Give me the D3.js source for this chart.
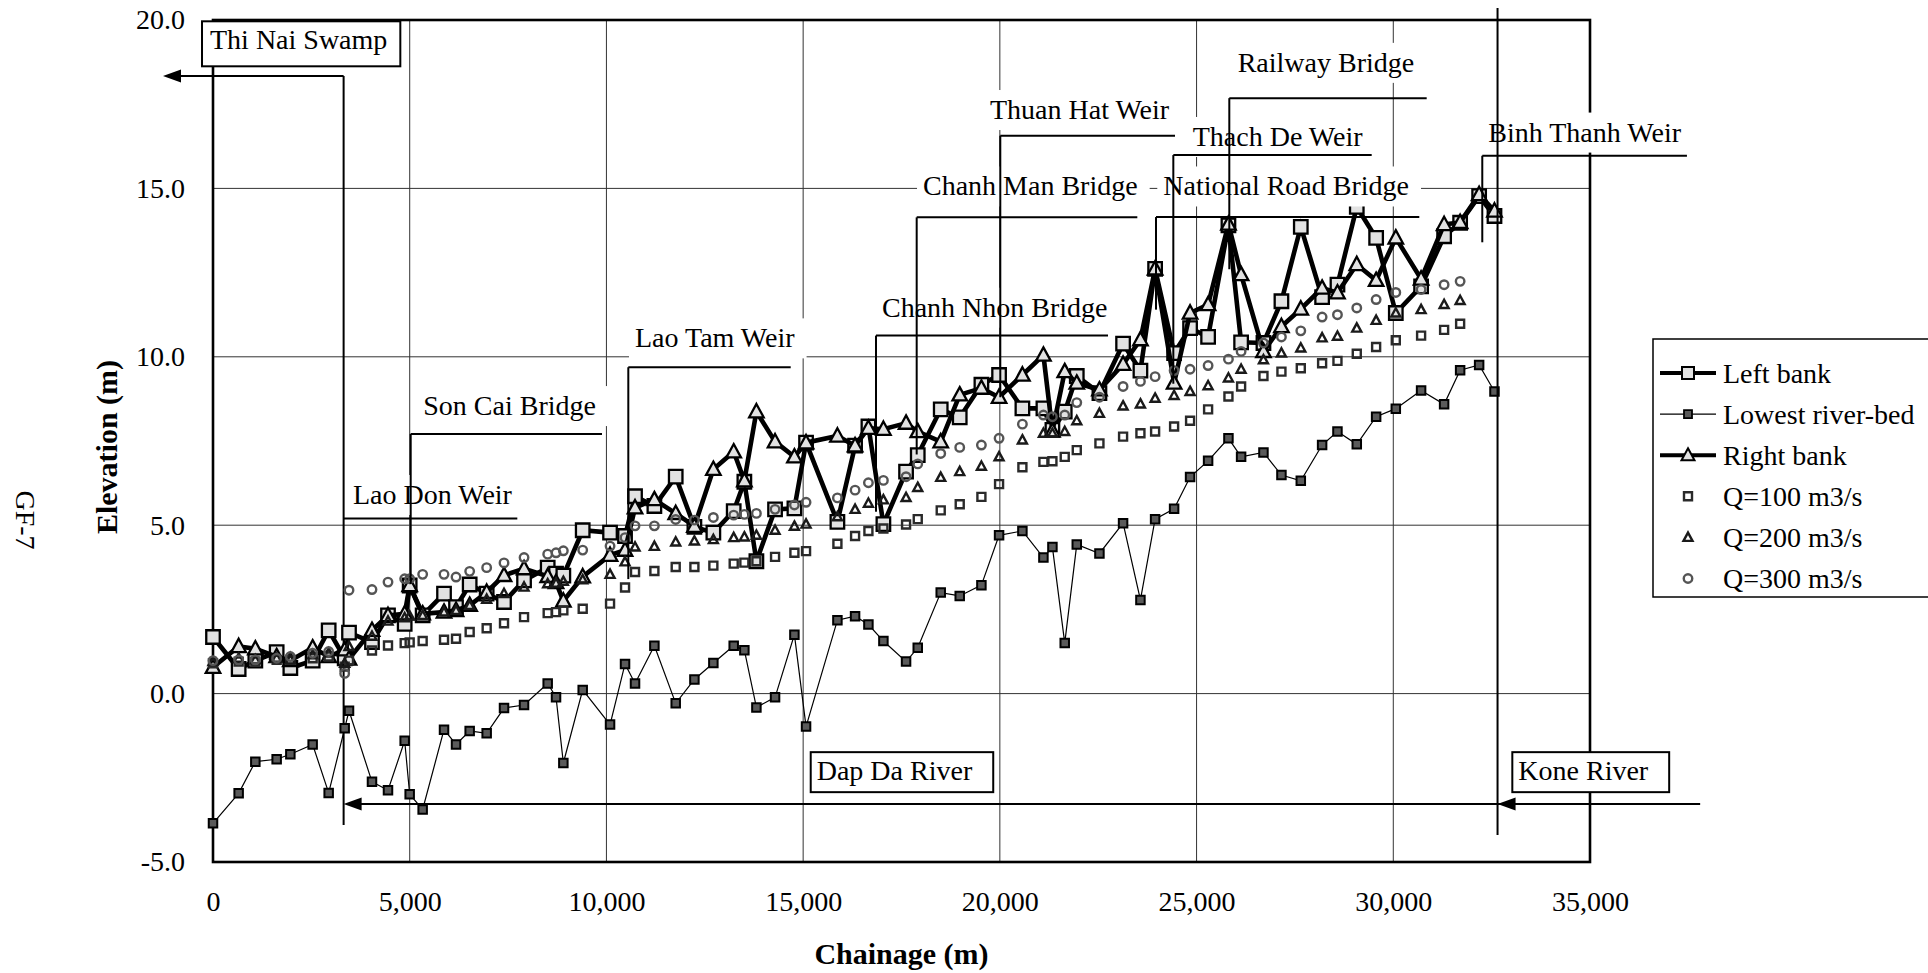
<!DOCTYPE html>
<html>
<head>
<meta charset="utf-8">
<script src="https://cdn.jsdelivr.net/npm/d3@7"></script>
<style>
  html, body { margin: 0; padding: 0; background: #fff; }
  svg { display: block; }
  text { font-family: "Liberation Serif", "Times New Roman", serif; fill: #000; }
</style>
</head>
<body>
<svg id="chart" width="1928" height="973"></svg>
<script>
// Longitudinal profile GF-7: survey stations (chainage, m) and elevations (m)
const stationM = [
  0, 652, 1076, 1618, 1966, 2533, 2940, 3347, 3457, 4041,
  4448, 4872, 4999, 5329, 5872, 6177, 6524, 6956, 7397, 7906,
  8507, 8719, 8905, 9397, 10092, 10473, 10727, 11219, 11761, 12236,
  12718, 13235, 13506, 13812, 14286, 14778, 15074, 15871, 16320, 16659,
  17040, 17616, 17913, 18497, 18980, 19531, 19980, 20573, 21107, 21336,
  21649, 21955, 22531, 23132, 23573, 23946, 24429, 24835, 25293, 25810,
  26132, 26700, 27157, 27649, 28191, 28581, 29072, 29564, 30064, 30707,
  31292, 31699, 32182, 32572
];

const leftBank = [
  1.68, 0.73, 0.98, 1.23, 0.76, 0.98, 1.88, 1.05, 1.81, 1.53,
  2.32, 2.07, 3.21, 2.32, 2.97, 2.57, 3.24, 2.97, 2.72, 3.36,
  3.74, 3.56, 3.50, 4.85, 4.78, 4.68, 5.86, 5.57, 6.44, 4.95,
  4.78, 5.42, 6.29, 3.93, 5.47, 5.50, 7.45, 5.10, 7.36, 7.93,
  5.03, 6.59, 7.08, 8.44, 8.20, 9.17, 9.46, 8.47, 8.47, 7.83,
  8.37, 9.43, 8.92, 10.39, 9.59, 12.61, 10.11, 10.85, 10.59, 13.90,
  10.43, 10.41, 11.65, 13.86, 11.77, 12.14, 14.45, 13.53, 11.30, 12.09,
  13.58, 13.98, 14.77, 14.18
];

const riverBed = [
  -3.85, -2.96, -2.02, -1.95, -1.80, -1.51, -2.95, -1.03, -0.51, -2.62,
  -2.87, -1.40, -2.99, -3.44, -1.07, -1.51, -1.11, -1.18, -0.43, -0.34,
  0.30, -0.11, -2.06, 0.11, -0.92, 0.88, 0.30, 1.42, -0.29, 0.42,
  0.91, 1.42, 1.29, -0.41, -0.11, 1.75, -0.98, 2.18, 2.30, 2.05,
  1.56, 0.95, 1.36, 3.00, 2.90, 3.22, 4.70, 4.83, 4.04, 4.35,
  1.50, 4.43, 4.16, 5.06, 2.78, 5.18, 5.49, 6.43, 6.91, 7.58,
  7.03, 7.16, 6.49, 6.32, 7.38, 7.78, 7.40, 8.22, 8.46, 9.00,
  8.59, 9.60, 9.76, 8.97
];

const rightBank = [
  0.78, 1.40, 1.33, 1.10, 0.98, 1.36, 1.10, 1.30, 1.03, 1.88,
  2.32, 2.37, 3.21, 2.37, 2.42, 2.47, 2.62, 3.01, 3.51, 3.71,
  3.48, 3.30, 2.75, 3.47, 4.11, 4.26, 5.52, 5.76, 5.35, 4.97,
  6.66, 7.18, 6.32, 8.37, 7.48, 7.03, 7.45, 7.65, 7.36, 7.88,
  7.85, 8.03, 7.78, 7.48, 8.87, 9.07, 8.80, 9.46, 10.05, 7.80,
  9.56, 9.22, 9.02, 9.78, 10.51, 12.61, 9.22, 11.30, 11.55, 13.94,
  12.44, 10.16, 10.90, 11.42, 12.04, 11.90, 12.74, 12.27, 13.53, 12.31,
  13.93, 13.99, 14.82, 14.33
];

const q100 = [
  0.90, 0.95, 0.95, 1.00, 1.00, 1.05, 1.10, 0.80, 0.98, 1.28,
  1.43, 1.50, 1.52, 1.56, 1.60, 1.63, 1.83, 1.94, 2.09, 2.27,
  2.39, 2.42, 2.47, 2.52, 2.67, 3.15, 3.61, 3.64, 3.76, 3.76,
  3.80, 3.86, 3.89, 3.93, 4.06, 4.18, 4.23, 4.45, 4.68, 4.83,
  4.90, 5.02, 5.18, 5.44, 5.62, 5.84, 6.22, 6.72, 6.88, 6.90,
  7.03, 7.23, 7.43, 7.63, 7.73, 7.78, 7.93, 8.10, 8.44, 8.82,
  9.12, 9.43, 9.56, 9.66, 9.81, 9.88, 10.09, 10.29, 10.49, 10.63,
  10.80, 10.98, null, null
];

const q200 = [
  0.95, 1.05, 1.00, 1.05, 1.00, 1.15, 1.20, 0.90, 1.40, 1.70,
  2.15, 2.25, 2.30, 2.32, 2.42, 2.47, 2.62, 2.80, 2.97, 3.16,
  3.26, 3.28, 3.33, 3.38, 3.54, 3.91, 4.35, 4.37, 4.50, 4.53,
  4.57, 4.63, 4.65, 4.70, 4.85, 4.97, 5.03, 5.25, 5.47, 5.65,
  5.75, 5.82, 6.12, 6.42, 6.59, 6.75, 7.03, 7.53, 7.73, 7.73,
  7.78, 8.10, 8.32, 8.54, 8.60, 8.77, 8.85, 8.97, 9.14, 9.37,
  9.63, 9.91, 10.11, 10.26, 10.56, 10.61, 10.85, 11.08, 11.30, 11.40,
  11.55, 11.67, null, null
];

const q300 = [
  0.98, 1.00, 1.00, 1.05, 1.10, 1.20, 1.25, 0.60, 3.07, 3.09,
  3.31, 3.41, 3.41, 3.54, 3.54, 3.46, 3.63, 3.74, 3.88, 4.04,
  4.14, 4.18, 4.24, 4.26, 4.38, 4.63, 4.98, 4.98, 5.17, 5.15,
  5.23, 5.30, 5.32, 5.35, 5.47, 5.60, 5.68, 5.81, 6.04, 6.26,
  6.33, 6.44, 6.82, 7.13, 7.31, 7.38, 7.58, 8.00, 8.27, 8.22,
  8.27, 8.64, 8.80, 9.12, 9.27, 9.41, 9.59, 9.63, 9.74, 9.93,
  10.16, 10.41, 10.59, 10.77, 11.18, 11.25, 11.45, 11.70, 11.91, 12.00,
  12.14, 12.24, null, null
];

const xTickValues = [0, 5000, 10000, 15000, 20000, 25000, 30000, 35000];
const yTickValues = [-5, 0, 5, 10, 15, 20];
const seriesNames = ["Left bank", "Lowest river-bed", "Right bank", "Q=100 m3/s", "Q=200 m3/s", "Q=300 m3/s"];

// Structures along the river: label, station line, shelf under the label
const callouts = [
  { label: "Lao Don Weir",         at: 3320,  shelf: 5.20,  end: 7735,  foot: null, tx: 3558,  ty: 5.63 },
  { label: "Son Cai Bridge",       at: 5025,  shelf: 7.71,  end: 9887,  foot: 3.25, tx: 5345,  ty: 8.27 },
  { label: "Lao Tam Weir",         at: 10556, shelf: 9.69,  end: 14684, foot: 3.40, tx: 10726, ty: 10.28 },
  { label: "Chanh Nhon Bridge",    at: 16852, shelf: 10.63, end: 22749, foot: 5.40, tx: 17004, ty: 11.19 },
  { label: "Chanh Man Bridge",     at: 17886, shelf: 14.14, end: 23494, foot: 7.10, tx: 18047, ty: 14.79 },
  { label: "Thuan Hat Weir",       at: 20011, shelf: 16.56, end: 24452, foot: 8.80, tx: 19749, ty: 17.06 },
  { label: "Thach De Weir",        at: 24409, shelf: 15.99, end: 29451, foot: 9.20, tx: 24902, ty: 16.26 },
  { label: "National Road Bridge", at: 23969, shelf: 14.15, end: 30661, foot: 11.4, tx: 24154, ty: 14.79 },
  { label: "Railway Bridge",       at: 25832, shelf: 17.68, end: 30849, foot: 12.6, tx: 26045, ty: 18.46 },
  { label: "Binh Thanh Weir",      at: 32262, shelf: 15.97, end: 37464, foot: 13.4, tx: 32415, ty: 16.39 }
];

// Reach limits: sea side (Thi Nai), Dap Da branch, Kone branch
const reachStart = 3320, reachTop = 18.34, reachBottom = -3.90, swampArrowTip = -1271;
const riverLineLevel = -3.28, riverLineEnd = 37800;
const koneAt = 32650, koneTop = 20.36, koneBottom = -4.20;
const boxedLabels = [
  { label: "Thi Nai Swamp", tx: -76,   ty: 19.13, pad: [28, 13, 17, 8] },
  { label: "Dap Da River",  tx: 15345, ty: -2.57, pad: [28, 21, 12, 6] },
  { label: "Kone River",    tx: 33178, ty: -2.57, pad: [28, 21, 12, 6] }
];

const svg = d3.select("#chart");
const x = d3.scaleLinear().domain([0, 35000]).range([213, 1590]);
const y = d3.scaleLinear().domain([-5, 20]).range([862, 20]);
const FONT = 28;

// grid
const grid = svg.append("g");
grid.selectAll("line.v").data(xTickValues.slice(1, -1)).join("line")
  .attr("x1", d => x(d)).attr("x2", d => x(d))
  .attr("y1", y(-5)).attr("y2", y(20))
  .attr("stroke", "#333").attr("stroke-width", 1);
grid.selectAll("line.h").data(yTickValues.slice(1, -1)).join("line")
  .attr("x1", x(0)).attr("x2", x(35000))
  .attr("y1", d => y(d)).attr("y2", d => y(d))
  .attr("stroke", "#333").attr("stroke-width", 1);

// plot frame
svg.append("rect")
  .attr("x", x(0)).attr("y", y(20))
  .attr("width", x(35000) - x(0)).attr("height", y(-5) - y(20))
  .attr("fill", "none").attr("stroke", "#000").attr("stroke-width", 2.6);

// upstream limit of the tidal reach
svg.append("line")
  .attr("x1", x(reachStart)).attr("x2", x(reachStart))
  .attr("y1", y(reachTop)).attr("y2", y(reachBottom))
  .attr("stroke", "#000").attr("stroke-width", 2);

// markers
const squarePath = s => { const h = s / 2; return `M${-h},${-h}H${h}V${h}H${-h}Z`; };
const trianglePath = (w, h) => `M0,${-h * 0.58}L${w / 2},${h * 0.42}L${-w / 2},${h * 0.42}Z`;

const seriesStyles = [
  { values: leftBank,  line: 4.6, marker: "square",   size: 13.5, fill: "#e2e2e2", stroke: "#000", sw: 2.3 },
  { values: riverBed,  line: 1.2, marker: "square",   size: 8.5,  fill: "#5a5a5a", stroke: "#000", sw: 2 },
  { values: rightBank, line: 4.6, marker: "triangle", size: 14.5, fill: "#e2e2e2", stroke: "#000", sw: 2.3 },
  { values: q100,      line: 0,   marker: "square",   size: 8,    fill: "none",    stroke: "#2a2a2a", sw: 2.4 },
  { values: q200,      line: 0,   marker: "triangle", size: 9,    fill: "none",    stroke: "#1a1a1a", sw: 2.4 },
  { values: q300,      line: 0,   marker: "circle",   size: 8.5,  fill: "none",    stroke: "#555", sw: 2.4 }
];

function markerShape(sel, st) {
  if (st.marker === "circle") {
    sel.append("circle").attr("r", st.size / 2);
  } else if (st.marker === "square") {
    sel.append("path").attr("d", squarePath(st.size));
  } else {
    sel.append("path").attr("d", trianglePath(st.size, st.size * 0.92));
  }
  sel.selectAll("*").attr("fill", st.fill).attr("stroke", st.stroke).attr("stroke-width", st.sw);
}

const dataLayer = svg.append("g");
seriesStyles.forEach(st => {
  const pts = stationM.map((c, i) => ({ c, v: st.values[i] })).filter(d => d.v != null);
  const g = dataLayer.append("g");
  if (st.line > 0) {
    g.append("path")
      .attr("d", d3.line().x(d => x(d.c)).y(d => y(d.v))(pts))
      .attr("fill", "none").attr("stroke", "#000")
      .attr("stroke-width", st.line).attr("stroke-linejoin", "miter");
  }
  g.selectAll("g.pt").data(pts).join("g")
    .attr("transform", d => `translate(${x(d.c)},${y(d.v)})`)
    .each(function () { markerShape(d3.select(this), st); });
});

// label backgrounds and text
const bgLayer = svg.append("g");
const lineLayer = svg.append("g");
const textLayer = svg.append("g");

callouts.forEach(c => {
  const t = textLayer.append("text")
    .attr("x", x(c.tx)).attr("y", y(c.ty))
    .attr("font-size", FONT).text(c.label);
  const w = t.node().getComputedTextLength();
  bgLayer.append("rect")
    .attr("x", x(c.tx) - 6).attr("y", y(c.ty) - 29)
    .attr("width", w + 18).attr("height", 40)
    .attr("fill", "#fff");
  lineLayer.append("line")
    .attr("x1", x(c.at)).attr("x2", x(c.end))
    .attr("y1", y(c.shelf)).attr("y2", y(c.shelf))
    .attr("stroke", "#000").attr("stroke-width", 2);
  if (c.foot != null) {
    lineLayer.append("line")
      .attr("x1", x(c.at)).attr("x2", x(c.at))
      .attr("y1", y(c.shelf)).attr("y2", y(c.foot))
      .attr("stroke", "#000").attr("stroke-width", 2);
  }
});

// arrows toward the sea and along the branches
const arrowLeft = (tx, ty) => `${tx},${ty} ${tx + 18},${ty - 6.5} ${tx + 18},${ty + 6.5}`;
lineLayer.append("line")
  .attr("x1", x(swampArrowTip) + 10).attr("x2", x(reachStart))
  .attr("y1", y(reachTop)).attr("y2", y(reachTop))
  .attr("stroke", "#000").attr("stroke-width", 2);
lineLayer.append("polygon").attr("points", arrowLeft(x(swampArrowTip), y(reachTop))).attr("fill", "#000");

lineLayer.append("line")
  .attr("x1", x(reachStart) + 10).attr("x2", x(riverLineEnd))
  .attr("y1", y(riverLineLevel)).attr("y2", y(riverLineLevel))
  .attr("stroke", "#000").attr("stroke-width", 2);
lineLayer.append("polygon").attr("points", arrowLeft(x(reachStart), y(riverLineLevel))).attr("fill", "#000");
lineLayer.append("polygon").attr("points", arrowLeft(x(koneAt), y(riverLineLevel))).attr("fill", "#000");

lineLayer.append("line")
  .attr("x1", x(koneAt)).attr("x2", x(koneAt))
  .attr("y1", y(koneTop)).attr("y2", y(koneBottom))
  .attr("stroke", "#000").attr("stroke-width", 2);

// boxed place names
boxedLabels.forEach(b => {
  const g = svg.append("g");
  const r = g.append("rect");
  const t = g.append("text")
    .attr("x", x(b.tx)).attr("y", y(b.ty))
    .attr("font-size", FONT).text(b.label);
  const w = t.node().getComputedTextLength();
  const [pt, pr, pb, pl] = b.pad;
  r.attr("x", x(b.tx) - pl).attr("y", y(b.ty) - pt)
    .attr("width", w + pl + pr).attr("height", pt + pb)
    .attr("fill", "#fff").attr("stroke", "#000").attr("stroke-width", 2);
});

// axes
const xAxis = svg.append("g")
  .attr("transform", `translate(0,${y(-5)})`)
  .call(d3.axisBottom(x).tickValues(xTickValues).tickSize(0).tickPadding(29).tickFormat(d3.format(",")));
xAxis.select(".domain").remove();
xAxis.selectAll("text").attr("font-size", FONT).attr("font-family", "Liberation Serif, Times New Roman, serif");

const yAxis = svg.append("g")
  .attr("transform", `translate(${x(0)},0)`)
  .call(d3.axisLeft(y).tickValues(yTickValues).tickSize(0).tickPadding(28).tickFormat(v => v.toFixed(1)));
yAxis.select(".domain").remove();
yAxis.selectAll("text").attr("font-size", FONT).attr("font-family", "Liberation Serif, Times New Roman, serif");

svg.append("text")
  .attr("x", (x(0) + x(35000)) / 2).attr("y", 964)
  .attr("text-anchor", "middle").attr("font-size", 30).attr("font-weight", "bold")
  .text("Chainage (m)");
svg.append("text")
  .attr("transform", "translate(117,447) rotate(-90)")
  .attr("text-anchor", "middle").attr("font-size", 30).attr("font-weight", "bold")
  .text("Elevation (m)");
svg.append("text")
  .attr("transform", "translate(16,520) rotate(90)")
  .attr("text-anchor", "middle").attr("font-size", FONT)
  .text("GF-7");

// legend
const legend = svg.append("g");
legend.append("rect")
  .attr("x", 1653).attr("y", 339).attr("width", 300).attr("height", 258)
  .attr("fill", "#fff").attr("stroke", "#000").attr("stroke-width", 1.5);
const legendStyles = [
  { line: 4,   marker: "square",   size: 12, fill: "#e2e2e2", stroke: "#000", sw: 2 },
  { line: 1.2, marker: "square",   size: 8,  fill: "#5a5a5a", stroke: "#000", sw: 1.8 },
  { line: 4,   marker: "triangle", size: 13, fill: "#e2e2e2", stroke: "#000", sw: 2 },
  { line: 0,   marker: "square",   size: 8,  fill: "none",    stroke: "#2a2a2a", sw: 2.4 },
  { line: 0,   marker: "triangle", size: 9,  fill: "none",    stroke: "#1a1a1a", sw: 2.4 },
  { line: 0,   marker: "circle",   size: 8.5,fill: "none",    stroke: "#555", sw: 2.4 }
];
seriesNames.forEach((name, i) => {
  const cy = 373 + i * 41.1;
  const st = legendStyles[i];
  const g = legend.append("g");
  if (st.line > 0) {
    g.append("line").attr("x1", 1660).attr("x2", 1716).attr("y1", cy).attr("y2", cy)
      .attr("stroke", "#000").attr("stroke-width", st.line);
  }
  const m = g.append("g").attr("transform", `translate(1688,${cy})`);
  markerShape(m, st);
  g.append("text").attr("x", 1723).attr("y", cy + 9.5).attr("font-size", FONT).text(name);
});
</script>
</body>
</html>
